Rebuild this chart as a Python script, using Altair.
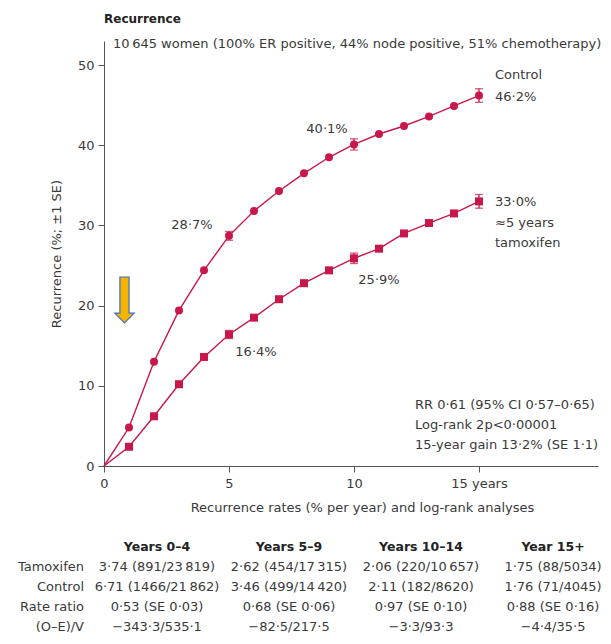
import altair as alt
import pandas as pd

# ---------------- data ----------------
years = list(range(16))
control = [0, 4.8, 13.0, 19.4, 24.4, 28.7, 31.8, 34.3, 36.5, 38.5, 40.1, 41.4, 42.4, 43.6, 44.9, 46.2]
tamoxifen = [0, 2.4, 6.2, 10.2, 13.6, 16.4, 18.5, 20.8, 22.8, 24.4, 25.9, 27.1, 29.0, 30.3, 31.5, 33.0]

se_years = [5, 10, 15]
control_se = [0.55, 0.7, 0.85]
tamoxifen_se = [0.5, 0.65, 0.85]

value_labels = ["28·7%", "40·1%", "16·4%", "25·9%"]
end_labels = ["Control", "46·2%", "33·0%", "≈5 years", "tamoxifen"]
stats_lines = ["RR 0·61 (95% CI 0·57–0·65)", "Log-rank 2p<0·00001", "15-year gain 13·2% (SE 1·1)"]
subtitle = "10\u2009645 women (100% ER positive, 44% node positive, 51% chemotherapy)"

table_rows = ["Tamoxifen", "Control", "Rate ratio", "(O–E)/V"]
table_headers = ["Years 0–4", "Years 5–9", "Years 10–14", "Year 15+"]
table_cells = [
    ["3·74 (891/23\u2009819)", "2·62 (454/17\u2009315)", "2·06 (220/10\u2009657)", "1·75 (88/5034)"],
    ["6·71 (1466/21\u2009862)", "3·46 (499/14\u2009420)", "2·11 (182/8620)", "1·76 (71/4045)"],
    ["0·53 (SE 0·03)", "0·68 (SE 0·06)", "0·97 (SE 0·10)", "0·88 (SE 0·16)"],
    ["−343·3/535·1", "−82·5/217·5", "−3·3/93·3", "−4·4/35·5"],
]

# ---------------- styling ----------------
RED = "#C8174B"
TXT = "#3a3a3a"
AX = "#555555"
FONT = "DejaVu Sans"
FS = 13

df = pd.DataFrame({
    "year": years * 2,
    "value": control + tamoxifen,
    "series": ["Control"] * 16 + ["Tamoxifen"] * 16,
})
pts = df[df["year"] > 0]

err_rows = []
for y, s in zip(se_years, control_se):
    v = control[y]
    err_rows.append({"year": y, "lo": v - s, "hi": v + s})
for y, s in zip(se_years, tamoxifen_se):
    v = tamoxifen[y]
    err_rows.append({"year": y, "lo": v - s, "hi": v + s})
err = pd.DataFrame(err_rows)

xs = alt.Scale(domain=[0, 19.76], nice=False, zero=False)
ys = alt.Scale(domain=[0, 53], nice=False)

x_axis = alt.Axis(values=[0, 5, 10, 15], labelExpr="datum.value == 15 ? '15 years' : datum.label",
                  grid=False, tickSize=6, labelPadding=5, domainColor=AX, tickColor=AX,
                  labelColor=TXT, titleColor=TXT, labelFont=FONT, titleFont=FONT,
                  labelFontSize=FS, titleFontSize=FS, titleFontWeight="normal",
                  title="Recurrence rates (% per year) and log-rank analyses",
                  titleX=258, titlePadding=11, labelFlush=False)
y_axis = alt.Axis(values=[0, 10, 20, 30, 40, 50], grid=False, tickSize=6, labelPadding=4,
                  domainColor=AX, tickColor=AX, labelColor=TXT, titleColor=TXT,
                  labelFont=FONT, titleFont=FONT, labelFontSize=FS, titleFontSize=FS,
                  titleFontWeight="normal", title="Recurrence (%; ±1 SE)", titlePadding=14)

X = alt.X("year:Q", scale=xs, axis=x_axis)
Y = alt.Y("value:Q", scale=ys, axis=y_axis)

lines = alt.Chart(df).mark_line(color=RED, strokeWidth=1.4).encode(x=X, y=Y, detail="series:N")

points = alt.Chart(pts).mark_point(filled=True, color=RED, opacity=1, size=64).encode(
    x=X, y=Y,
    shape=alt.Shape("series:N", scale=alt.Scale(domain=["Control", "Tamoxifen"], range=["circle", "square"]), legend=None),
)

err_rule = alt.Chart(err).mark_rule(color=RED, strokeWidth=1.3).encode(
    x=alt.X("year:Q", scale=xs), y=alt.Y("lo:Q", scale=ys), y2="hi:Q")
err_lo = alt.Chart(err).mark_tick(color=RED, orient="horizontal", size=8, thickness=1.3).encode(
    x=alt.X("year:Q", scale=xs), y=alt.Y("lo:Q", scale=ys))
err_hi = alt.Chart(err).mark_tick(color=RED, orient="horizontal", size=8, thickness=1.3).encode(
    x=alt.X("year:Q", scale=xs), y=alt.Y("hi:Q", scale=ys))

# annotation placements (chart coordinates)
ann = pd.DataFrame({
    "text": value_labels,
    "year": [3.52, 8.92, 6.08, 11.0],
    "value": [30.05, 41.98, 14.25, 23.2],
})
ann_text = alt.Chart(ann).mark_text(font=FONT, fontSize=FS, color=TXT, align="center", baseline="middle").encode(
    x=alt.X("year:Q", scale=xs), y=alt.Y("value:Q", scale=ys), text="text:N")

end_df = pd.DataFrame({
    "text": end_labels,
    "year": [15.64] * 5,
    "value": [48.75, 46.05, 32.96, 30.34, 27.77],
})
end_text = alt.Chart(end_df).mark_text(font=FONT, fontSize=FS, color=TXT, align="left", baseline="middle").encode(
    x=alt.X("year:Q", scale=xs), y=alt.Y("value:Q", scale=ys), text="text:N")

stats_df = pd.DataFrame({"text": stats_lines, "year": [12.44] * 3, "value": [7.6, 5.11, 2.62]})
stats_text = alt.Chart(stats_df).mark_text(font=FONT, fontSize=FS, color=TXT, align="left", baseline="middle").encode(
    x=alt.X("year:Q", scale=xs), y=alt.Y("value:Q", scale=ys), text="text:N")

sub_df = pd.DataFrame({"text": [subtitle], "year": [0.36], "value": [52.6]})
sub_text = alt.Chart(sub_df).mark_text(font=FONT, fontSize=FS, color=TXT, align="left", baseline="middle").encode(
    x=alt.X("year:Q", scale=xs), y=alt.Y("value:Q", scale=ys), text="text:N")

ARROW = "M -0.2 -1 L 0.2 -1 L 0.2 0.57 L 0.42 0.57 L 0 1 L -0.42 0.57 L -0.2 0.57 Z"
arrow_df = pd.DataFrame({"year": [0.82], "value": [20.7]})
arrow = alt.Chart(arrow_df).mark_point(shape=ARROW, size=2116, filled=True, fill="#F5B400",
                                       stroke="#3F6FC7", strokeWidth=1.2, opacity=1).encode(
    x=alt.X("year:Q", scale=xs), y=alt.Y("value:Q", scale=ys))

plot = alt.layer(lines, err_rule, err_lo, err_hi, points, ann_text, end_text, stats_text, sub_text, arrow)

# ---------------- table below the plot ----------------
cell_records = []
for r, row in enumerate(table_cells):
    for c, txt in enumerate(row):
        cell_records.append({"row": r + 1, "col": c + 1, "text": txt})
cells_df = pd.DataFrame(cell_records)
header_df = pd.DataFrame({"row": [0] * 4, "col": [1, 2, 3, 4], "text": table_headers})
label_df = pd.DataFrame({"row": [1, 2, 3, 4], "col": [0] * 4, "text": table_rows})

tx = alt.Scale(domain=[1, 4], range=[53, 449])
ty = alt.Scale(domain=[0, 4], range=[506, 586])
TX = alt.X("col:Q", scale=tx, axis=None)
TY = alt.Y("row:Q", scale=ty, axis=None)

cells = alt.Chart(cells_df).mark_text(font=FONT, fontSize=FS, color=TXT, align="center", baseline="middle").encode(
    x=TX, y=TY, text="text:N")
headers = alt.Chart(header_df).mark_text(font=FONT, fontSize=12.5, color="#222", fontWeight="bold",
                                         align="center", baseline="middle").encode(x=TX, y=TY, text="text:N")
labels = alt.Chart(label_df).mark_text(font=FONT, fontSize=FS, color=TXT, align="right", baseline="middle", dx=59).encode(
    x=TX, y=TY, text="text:N")
table = alt.layer(headers, cells, labels)

chart = alt.layer(plot, table).resolve_scale(x="independent", y="independent").properties(
    width=494, height=425,
    title=alt.TitleParams("Recurrence", anchor="start", frame="group", font=FONT, fontSize=12,
                          fontWeight="bold", color="#222", offset=12),
    autosize=alt.AutoSizeParams(type="none"),
    padding={"left": 96, "top": 33, "right": 5, "bottom": 170},
).configure_view(stroke=None)

chart.save("out.html", embed_options={"renderer": "svg", "actions": False})
